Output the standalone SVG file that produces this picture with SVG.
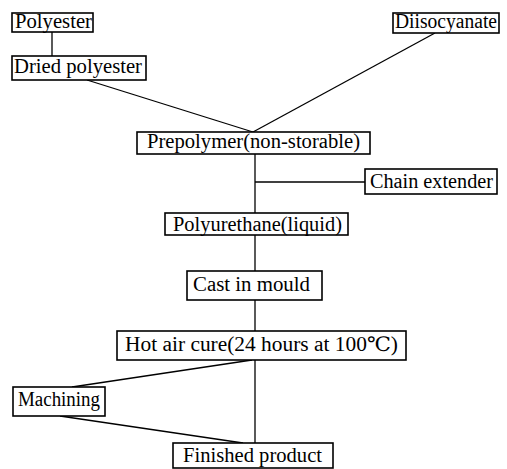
<svg xmlns="http://www.w3.org/2000/svg" width="507" height="469" viewBox="0 0 507 469">
<style>
.box{fill:#fff;stroke:#000;stroke-width:1.6}
.t{font-family:'Liberation Serif','DejaVu Serif',serif;font-size:20px;fill:#000}
.c{stroke:#000;stroke-width:1.3;fill:none}
</style>
<rect width="507" height="469" fill="#fff"/>
<g id="connectors">
<line class="c" x1="52" y1="32" x2="52" y2="56"/>
<line class="c" x1="87" y1="80" x2="253" y2="132"/>
<line class="c" x1="435" y1="33" x2="253" y2="132"/>
<line class="c" x1="255" y1="154" x2="255" y2="213"/>
<line class="c" x1="255" y1="182" x2="365" y2="182"/>
<line class="c" x1="255" y1="235" x2="255" y2="271"/>
<line class="c" x1="255" y1="300" x2="255" y2="331"/>
<line class="c" x1="252" y1="360" x2="72" y2="387"/>
<line class="c" x1="60" y1="416" x2="243" y2="443"/>
<line class="c" x1="255" y1="360" x2="255" y2="443"/>
</g>
<g id="polyester"><rect class="box" x="12" y="13" width="81" height="19"/><text class="t" x="15" y="28" textLength="77" lengthAdjust="spacingAndGlyphs">Polyester</text></g>
<g id="dried-polyester"><rect class="box" x="12" y="56" width="134" height="24"/><text class="t" x="14" y="73" textLength="128" lengthAdjust="spacingAndGlyphs">Dried polyester</text></g>
<g id="diisocyanate"><rect class="box" x="393" y="13" width="106" height="20"/><text class="t" x="395" y="28" textLength="102" lengthAdjust="spacingAndGlyphs">Diisocyanate</text></g>
<g id="prepolymer"><rect class="box" x="137" y="132" width="233" height="22"/><text class="t" x="147" y="148" textLength="213" lengthAdjust="spacingAndGlyphs">Prepolymer(non-storable)</text></g>
<g id="chain-extender"><rect class="box" x="365" y="169" width="132" height="25"/><text class="t" x="370" y="188" textLength="123" lengthAdjust="spacingAndGlyphs">Chain extender</text></g>
<g id="polyurethane"><rect class="box" x="165" y="213" width="183" height="22"/><text class="t" x="173" y="231" textLength="169" lengthAdjust="spacingAndGlyphs">Polyurethane(liquid)</text></g>
<g id="cast"><rect class="box" x="187" y="271" width="135" height="29"/><text class="t" x="193" y="291" textLength="117" lengthAdjust="spacingAndGlyphs">Cast in mould</text></g>
<g id="hot-air-cure"><rect class="box" x="117" y="331" width="289" height="29"/><text class="t" x="125" y="351" textLength="273" lengthAdjust="spacingAndGlyphs">Hot air cure(24 hours at 100℃)</text></g>
<g id="machining"><rect class="box" x="13" y="387" width="92" height="29"/><text class="t" x="18" y="406" textLength="82" lengthAdjust="spacingAndGlyphs">Machining</text></g>
<g id="finished-product"><rect class="box" x="173" y="443" width="160" height="25"/><text class="t" x="183" y="462" textLength="139" lengthAdjust="spacingAndGlyphs">Finished product</text></g>
</svg>
